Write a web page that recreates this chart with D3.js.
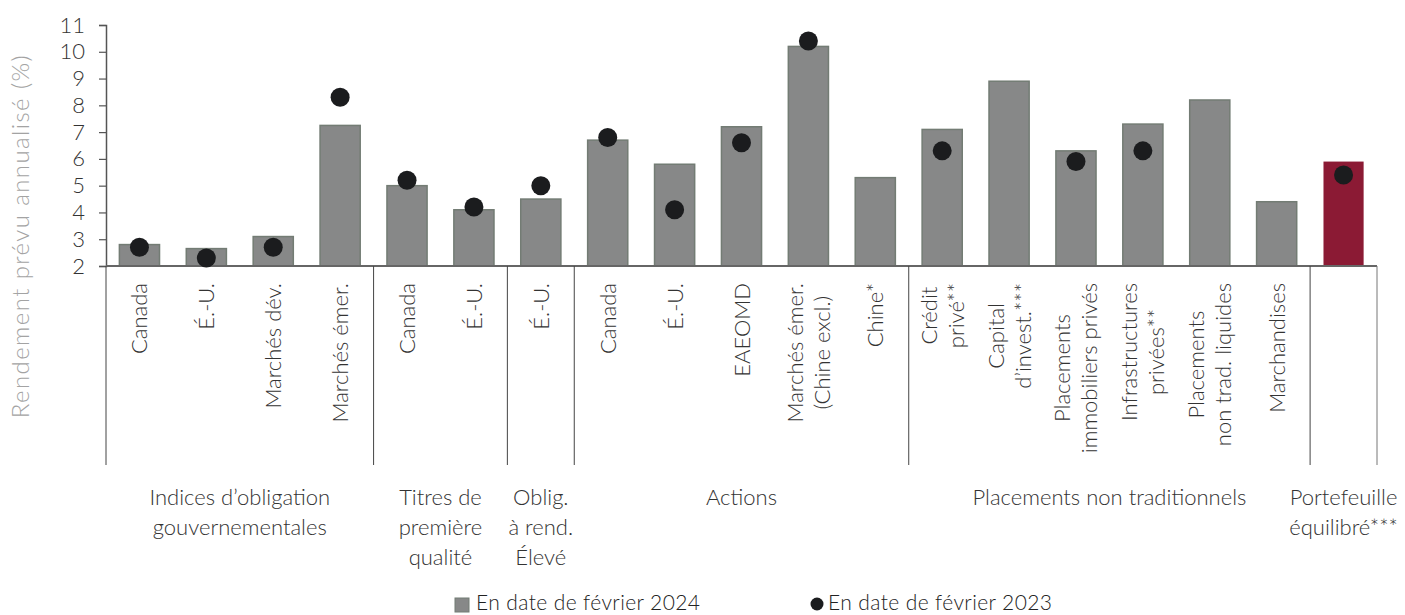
<!DOCTYPE html>
<head>
<meta charset="utf-8">
<script src="https://d3js.org/d3.v7.min.js"></script>
<style>
  body { margin: 0; background: #fff; }
  svg text { font-family: Lato, "Open Sans", sans-serif; }
</style>
</head>
<body>
  <svg id="chart" width="1405" height="615"></svg>
  <script>
    // category labels (\n = line break inside the rotated label)
    const categories = [
      "Canada", "É.-U.", "Marchés dév.", "Marchés émer.",
      "Canada", "É.-U.",
      "É.-U.",
      "Canada", "É.-U.", "EAEOMD", "Marchés émer.\n(Chine excl.)", "Chine*",
      "Crédit\nprivé**", "Capital\nd’invest.***", "Placements\nimmobiliers privés",
      "Infrastructures\nprivées**", "Placements\nnon trad. liquides", "Marchandises",
      ""
    ];
    const feb2024 = [2.8, 2.65, 3.1, 7.25, 5.0, 4.1, 4.5, 6.7, 5.8, 7.2, 10.2, 5.3,
                     7.1, 8.9, 6.3, 7.3, 8.2, 4.4, 5.9];
    const feb2023 = [2.7, 2.3, 2.7, 8.3, 5.2, 4.2, 5.0, 6.8, 4.1, 6.6, 10.4, null,
                     6.3, null, 5.9, 6.3, null, null, 5.4];
    const groupNames = [
      "Indices d’obligation\ngouvernementales",
      "Titres de\npremière\nqualité",
      "Oblig.\nà rend.\nÉlevé",
      "Actions",
      "Placements non traditionnels",
      "Portefeuille\néquilibré***"
    ];
    const groupSizes = [4, 2, 1, 5, 6, 1];
    const yTicks = [2, 3, 4, 5, 6, 7, 8, 9, 10, 11];
    const legendLabels = ["En date de février 2024", "En date de février 2023"];
    const highlightIndex = 18;

    const svg = d3.select("#chart"),
      width = +svg.attr("width");

    const x = d3.scaleBand()
      .domain(d3.range(categories.length))
      .range([106, 1377])
      .paddingInner(0.4)
      .paddingOuter(0.2);
    const y = d3.scaleLinear().domain([2, 11]).range([266, 25]);
    const step = x.step();
    const boundary = i => x.range()[0] + i * step;
    const sepBottom = 465;

    // bars
    svg.append("g")
      .selectAll("rect")
      .data(feb2024)
      .join("rect")
      .attr("x", (d, i) => x(i))
      .attr("width", x.bandwidth())
      .attr("y", d => y(d))
      .attr("height", d => y(2) - y(d))
      .attr("fill", (d, i) => i === highlightIndex ? "#8b1a34" : "#878888")
      .attr("stroke", (d, i) => i === highlightIndex ? "none" : "#737c74")
      .attr("stroke-width", 1.5);

    // y axis
    const yAxis = svg.append("g")
      .attr("transform", `translate(${x.range()[0]},0)`)
      .call(d3.axisLeft(y).tickValues(yTicks).tickSize(7).tickPadding(14));
    yAxis.select(".domain").attr("stroke", "#555").attr("stroke-width", 1.5);
    yAxis.selectAll(".tick line").attr("stroke", "#555").attr("stroke-width", 1.2);
    yAxis.selectAll(".tick text")
      .attr("font-size", 22).attr("fill", "#333").attr("font-weight", 300)
      .attr("font-family", "Lato, sans-serif");

    // baseline
    svg.append("line")
      .attr("x1", x.range()[0]).attr("x2", x.range()[1])
      .attr("y1", y(2)).attr("y2", y(2))
      .attr("stroke", "#666").attr("stroke-width", 2);

    // group separators
    const starts = [0];
    groupSizes.forEach(s => starts.push(starts[starts.length - 1] + s));
    svg.append("g")
      .selectAll("line")
      .data(starts)
      .join("line")
      .attr("x1", d => boundary(d)).attr("x2", d => boundary(d))
      .attr("y1", y(2)).attr("y2", sepBottom)
      .attr("stroke", (d, i) => i === starts.length - 1 ? "#777" : "#444")
      .attr("stroke-width", 1);

    // dots
    svg.append("g")
      .selectAll("circle")
      .data(feb2023.map((v, i) => ({ v, i })).filter(d => d.v !== null))
      .join("circle")
      .attr("cx", d => x(d.i) + x.bandwidth() / 2)
      .attr("cy", d => y(d.v))
      .attr("r", 9.5)
      .attr("fill", "#1b1c1e");

    // rotated category labels
    const catG = svg.append("g")
      .selectAll("text")
      .data(categories)
      .join("text")
      .attr("font-size", 22)
      .attr("fill", "#333")
      .attr("font-weight", 300)
      .attr("text-anchor", "middle");
    catG.each(function (d, i) {
      const t = d3.select(this);
      const lines = d.split("\n");
      lines.forEach((l, k) => {
        t.append("tspan").attr("x", 0)
          .attr("y", 8 + (k - (lines.length - 1) / 2) * 27)
          .text(l);
      });
      let maxLen = 0;
      t.selectAll("tspan").each(function () {
        maxLen = Math.max(maxLen, this.getComputedTextLength());
      });
      const cx = x(i) + x.bandwidth() / 2;
      t.attr("transform", `translate(${cx},${283 + maxLen / 2}) rotate(-90)`);
    });

    // group labels
    svg.append("g")
      .selectAll("text")
      .data(groupNames)
      .join("text")
      .attr("font-size", 22)
      .attr("fill", "#333")
      .attr("font-weight", 300)
      .attr("text-anchor", "middle")
      .each(function (d, i) {
        const t = d3.select(this);
        let cx = (boundary(starts[i]) + boundary(starts[i + 1])) / 2;
        d.split("\n").forEach((l, k) => {
          t.append("tspan").attr("x", cx).attr("y", 505 + k * 30).text(l);
        });
        let maxLen = 0;
        t.selectAll("tspan").each(function () {
          maxLen = Math.max(maxLen, this.getComputedTextLength());
        });
        if (cx + maxLen / 2 > width - 2) {
          cx = width - 2 - maxLen / 2;
          t.selectAll("tspan").attr("x", cx);
        }
      });

    // y axis title
    svg.append("text")
      .attr("transform", `translate(29,236) rotate(-90)`)
      .attr("text-anchor", "middle")
      .attr("font-size", 24)
      .attr("letter-spacing", 1.4)
      .attr("font-weight", 300)
      .attr("fill", "#a3a3a3")
      .text("Rendement prévu annualisé (%)");

    // legend
    const legend = svg.append("g");
    legend.append("rect")
      .attr("x", 455).attr("y", 598).attr("width", 14).attr("height", 14)
      .attr("fill", "#878888").attr("stroke", "#737c74");
    legend.append("text")
      .attr("x", 476).attr("y", 610)
      .attr("font-size", 21).attr("letter-spacing", 0.4)
      .attr("fill", "#222").attr("font-weight", 300)
      .text(legendLabels[0]);
    legend.append("circle")
      .attr("cx", 817).attr("cy", 604).attr("r", 6.5).attr("fill", "#1b1c1e");
    legend.append("text")
      .attr("x", 828).attr("y", 610)
      .attr("font-size", 21).attr("letter-spacing", 0.4)
      .attr("fill", "#222").attr("font-weight", 300)
      .text(legendLabels[1]);
  </script>
</body>
